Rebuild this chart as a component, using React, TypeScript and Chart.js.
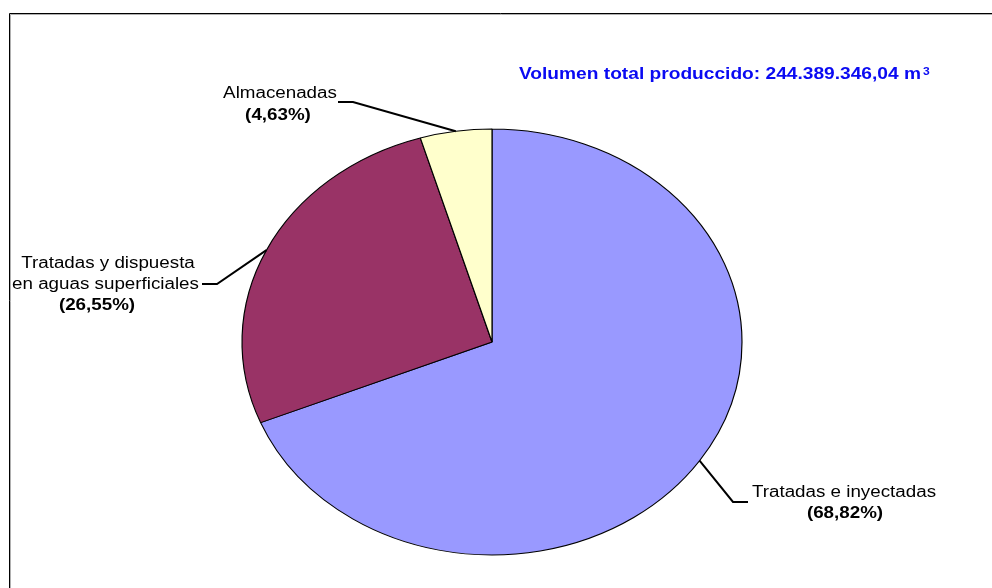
import React, { useEffect, useRef } from 'react';
import { Chart, registerables } from 'chart.js';

Chart.register(...registerables);

// ---- data ----
const categories = [
  'Tratadas e inyectadas',
  'Tratadas y dispuesta en aguas superficiales',
  'Almacenadas',
];
const labelLines = [
  ['Tratadas e inyectadas'],
  ['Tratadas y dispuesta', 'en aguas superficiales'],
  ['Almacenadas'],
];
const percentages = [68.82, 26.55, 4.63];
const percentLabels = ['(68,82%)', '(26,55%)', '(4,63%)'];
const colors = ['#9999FF', '#993366', '#FFFFCC'];
const titleText = 'Volumen total produccido: 244.389.346,04 m';
const titleSup = '3';

// ---- layout (page pixels) ----
const W = 992;
const H = 588;
const S = 250 / 213; // horizontal stretch of the original picture
const CX = 492;
const CY = 342;
const R = 213;

const labelLayout = [
  { elbow: [733, 502], end: [748, 502], lines: [[844, 497]], pct: [845, 518] },
  { elbow: [217, 284], end: [202, 284], lines: [[108, 268], [105.5, 289]], pct: [97, 310] },
  { elbow: [353, 102], end: [338, 102], lines: [[280, 98]], pct: [278, 119.5] },
];

const FONT = '"Liberation Sans", Arial, Helvetica, sans-serif';
const TITLE_COLOR = '#0A0AF2';

function stretchedText(ctx: CanvasRenderingContext2D, text: string, cx: number, base: number, font: string) {
  ctx.save();
  ctx.translate(cx, base);
  ctx.scale(S, 1);
  ctx.font = font;
  ctx.textAlign = 'center';
  ctx.textBaseline = 'alphabetic';
  ctx.fillStyle = '#000';
  ctx.fillText(text, 0, 0);
  ctx.restore();
}

const stretchPlugin = {
  id: 'stretchPlugin',
  beforeDraw(chart: any) {
    const ctx = chart.ctx;
    ctx.save();
    ctx.fillStyle = '#fff';
    ctx.fillRect(0, 0, chart.width, chart.height);
    ctx.restore();
    ctx.save();
    ctx.scale(S, 1);
  },
  afterDraw(chart: any) {
    const ctx: CanvasRenderingContext2D = chart.ctx;
    ctx.restore();

    // leader lines + labels
    const meta = chart.getDatasetMeta(0);
    meta.data.forEach((arc: any, i: number) => {
      const p = arc.getProps(['x', 'y', 'startAngle', 'endAngle', 'outerRadius'], true);
      const mid = (p.startAngle + p.endAngle) / 2;
      const ax = (p.x + p.outerRadius * Math.cos(mid)) * S;
      const ay = p.y + p.outerRadius * Math.sin(mid);
      const L = labelLayout[i];
      ctx.save();
      ctx.strokeStyle = '#000';
      ctx.lineWidth = 2;
      ctx.lineJoin = 'miter';
      ctx.beginPath();
      ctx.moveTo(ax, ay);
      ctx.lineTo(L.elbow[0], L.elbow[1]);
      ctx.lineTo(L.end[0], L.end[1]);
      ctx.stroke();
      ctx.restore();
      labelLines[i].forEach((t, k) => {
        stretchedText(ctx, t, L.lines[k][0], L.lines[k][1], `16px ${FONT}`);
      });
      stretchedText(ctx, percentLabels[i], L.pct[0], L.pct[1], `bold 16px ${FONT}`);
    });

    // title
    ctx.save();
    ctx.font = `bold 16px ${FONT}`;
    const tw = ctx.measureText(titleText).width;
    const target = 402;
    ctx.translate(519, 79);
    ctx.scale(target / tw, 1);
    ctx.fillStyle = TITLE_COLOR;
    ctx.textAlign = 'left';
    ctx.textBaseline = 'alphabetic';
    ctx.fillText(titleText, 0, 0);
    ctx.restore();
    ctx.save();
    ctx.font = `bold 11px ${FONT}`;
    ctx.fillStyle = TITLE_COLOR;
    ctx.textAlign = 'left';
    ctx.translate(923, 74.5);
    ctx.scale(1.1, 1);
    ctx.fillText(titleSup, 0, 0);
    ctx.restore();

    // frame
    ctx.save();
    ctx.lineWidth = 1;
    ctx.strokeStyle = '#b0b0b0';
    ctx.beginPath();
    ctx.moveTo(10.5, 14.5);
    ctx.lineTo(W, 14.5);
    ctx.moveTo(10.5, 14.5);
    ctx.lineTo(10.5, H);
    ctx.stroke();
    ctx.strokeStyle = '#000';
    ctx.beginPath();
    ctx.moveTo(9.5, 13.5);
    ctx.lineTo(W, 13.5);
    ctx.moveTo(9.5, 13.5);
    ctx.lineTo(9.5, H);
    ctx.stroke();
    ctx.restore();
  },
};

export default function App() {
  const ref = useRef<HTMLCanvasElement>(null);

  useEffect(() => {
    document.body.style.margin = '0';
    document.body.style.overflow = 'hidden';
    const canvas = ref.current!;
    const logicalW = W;
    const cxLogical = CX / S;
    const padRight = logicalW - 2 * cxLogical;
    const padTop = CY - R;
    const padBottom = H - padTop - 2 * R;
    const chart = new Chart(canvas, {
      type: 'pie',
      data: {
        labels: categories,
        datasets: [
          {
            data: percentages,
            backgroundColor: colors,
            borderColor: '#000',
            borderWidth: 1,
            hoverOffset: 0,
            offset: 0,
          },
        ],
      },
      options: {
        responsive: false,
        animation: false,
        devicePixelRatio: 1,
        radius: R,
        layout: { padding: { left: 0, right: padRight, top: padTop, bottom: padBottom } },
        plugins: {
          legend: { display: false },
          tooltip: { enabled: false },
        },
        events: [],
      } as any,
      plugins: [stretchPlugin],
    });
    return () => chart.destroy();
  }, []);

  return (
    <canvas
      ref={ref}
      width={W}
      height={H}
      style={{ display: 'block', width: `${W}px`, height: `${H}px` }}
    />
  );
}
